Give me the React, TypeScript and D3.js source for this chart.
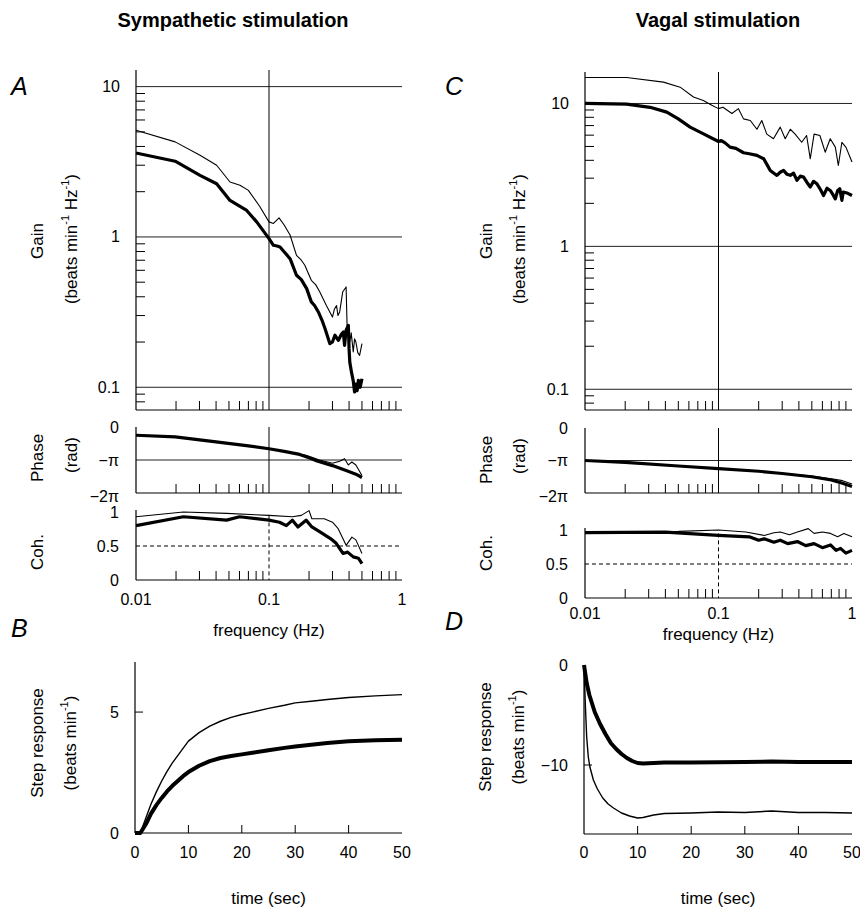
import React from "react";
import * as d3 from "d3";

// ---------- DATA ----------
const FREQ_MINOR = [0.02, 0.03, 0.04, 0.05, 0.06, 0.07, 0.08, 0.09, 0.2, 0.3, 0.4, 0.5, 0.6, 0.7, 0.8, 0.9];
const FREQ_LABELS: [number, string][] = [[0.01, "0.01"], [0.1, "0.1"], [1, "1"]];
const GAIN_MAJOR: [number, string][] = [[0.1, "0.1"], [1, "1"], [10, "10"]];
const GAIN_MINOR = [0.08, 0.09, 0.2, 0.3, 0.4, 0.5, 0.6, 0.7, 0.8, 0.9, 2, 3, 4, 5, 6, 7, 8, 9];
const PHASE_LABELS: [number, string][] = [[0, "0"], [-Math.PI, "\u2212\u03c0"], [-2 * Math.PI, "\u22122\u03c0"]];
const COH_LABELS: [number, string][] = [[0, "0"], [0.5, "0.5"], [1, "1"]];
const TIME_TICKS = [0, 10, 20, 30, 40, 50];

// Sympathetic (A) gain: [Hz, beats/min/Hz]
const SYM_GAIN_THICK: [number, number][] = [
  [0.01, 3.62], [0.0197, 3.19], [0.0303, 2.57], [0.0404, 2.26], [0.0509, 1.75], [0.068, 1.5], [0.0808, 1.26],
  [0.1, 0.975], [0.108, 0.88], [0.115, 0.87], [0.121, 0.858], [0.144, 0.717], [0.161, 0.556], [0.175, 0.52],
  [0.192, 0.453], [0.208, 0.37], [0.22, 0.35], [0.235, 0.317], [0.25, 0.28], [0.264, 0.245], [0.287, 0.195],
  [0.3, 0.2], [0.313, 0.222], [0.332, 0.205], [0.35, 0.225], [0.362, 0.233], [0.37, 0.19], [0.38, 0.24],
  [0.395, 0.258], [0.4, 0.18], [0.405, 0.147], [0.417, 0.126], [0.43, 0.11], [0.44, 0.093], [0.45, 0.105],
  [0.46, 0.095], [0.47, 0.111], [0.485, 0.1], [0.5, 0.114],
];
const SYM_GAIN_THIN: [number, number][] = [
  [0.01, 5.12], [0.0197, 4.29], [0.0303, 3.5], [0.0404, 3.0], [0.0509, 2.32], [0.0605, 2.21], [0.07, 2.04],
  [0.085, 1.6], [0.1, 1.26], [0.108, 1.23], [0.119, 1.34], [0.13, 1.2], [0.144, 1.03], [0.161, 0.755],
  [0.175, 0.7], [0.186, 0.648], [0.208, 0.515], [0.225, 0.48], [0.241, 0.43], [0.27, 0.35], [0.3, 0.293],
  [0.31, 0.33], [0.322, 0.35], [0.33, 0.3], [0.34, 0.317], [0.358, 0.43], [0.38, 0.465], [0.388, 0.222],
  [0.395, 0.25], [0.405, 0.2], [0.415, 0.23], [0.43, 0.172], [0.44, 0.21], [0.45, 0.2], [0.465, 0.17],
  [0.48, 0.163], [0.5, 0.195],
];
// Sympathetic phase: [Hz, phase/π]
const SYM_PHASE_THICK: [number, number][] = [
  [0.01, -0.25], [0.0197, -0.3], [0.04, -0.45], [0.07, -0.57], [0.1, -0.66], [0.13, -0.74], [0.17, -0.83],
  [0.2, -0.93], [0.23, -1.03], [0.3, -1.17], [0.38, -1.32], [0.45, -1.43], [0.5, -1.53],
];
const SYM_PHASE_THIN: [number, number][] = [
  [0.01, -0.25], [0.0197, -0.3], [0.04, -0.45], [0.07, -0.57], [0.1, -0.66], [0.13, -0.73], [0.17, -0.82],
  [0.19, -0.86], [0.24, -1.0], [0.3, -1.1], [0.34, -1.04], [0.37, -0.96], [0.395, -1.15], [0.42, -1.06],
  [0.45, -1.15], [0.5, -1.47],
];
// Sympathetic coherence
const SYM_COH_THICK: [number, number][] = [
  [0.01, 0.8], [0.0227, 0.93], [0.048, 0.88], [0.06, 0.93], [0.1, 0.88], [0.12, 0.85], [0.135, 0.8],
  [0.15, 0.88], [0.165, 0.78], [0.19, 0.88], [0.21, 0.78], [0.24, 0.71], [0.29, 0.61], [0.32, 0.54],
  [0.36, 0.39], [0.39, 0.41], [0.43, 0.34], [0.47, 0.32], [0.5, 0.24],
];
const SYM_COH_THIN: [number, number][] = [
  [0.01, 0.93], [0.0227, 1.0], [0.048, 0.98], [0.1, 0.95], [0.15, 0.93], [0.175, 0.95], [0.2, 1.02],
  [0.21, 0.9], [0.26, 0.9], [0.3, 0.85], [0.33, 0.76], [0.38, 0.51], [0.42, 0.63], [0.45, 0.59], [0.5, 0.39],
];

// Vagal (C) gain
const VAG_GAIN_THICK: [number, number][] = [
  [0.01, 10.0], [0.0205, 9.9], [0.0307, 9.4], [0.041, 8.7], [0.05, 7.8], [0.0613, 6.83], [0.0772, 6.13],
  [0.1, 5.42], [0.105, 5.5], [0.112, 5.3], [0.122, 4.95], [0.135, 4.85], [0.154, 4.52], [0.17, 4.45],
  [0.194, 4.33], [0.218, 4.1], [0.232, 3.7], [0.244, 3.4], [0.26, 3.25], [0.274, 3.14], [0.29, 3.3],
  [0.307, 3.4], [0.325, 3.2], [0.345, 3.14], [0.365, 3.25], [0.387, 2.9], [0.41, 3.1], [0.434, 3.05],
  [0.46, 2.8], [0.487, 2.6], [0.515, 2.85], [0.546, 2.74], [0.58, 2.5], [0.612, 2.27], [0.65, 2.55],
  [0.687, 2.46], [0.72, 2.3], [0.75, 2.15], [0.78, 2.45], [0.81, 2.53], [0.84, 2.1], [0.86, 2.4],
  [0.93, 2.35], [1.0, 2.27],
];
const VAG_GAIN_THIN: [number, number][] = [
  [0.01, 15.2], [0.0205, 15.2], [0.0387, 14.1], [0.0516, 13.0], [0.0649, 11.1], [0.077, 10.5], [0.0891, 9.7],
  [0.1, 9.2], [0.108, 9.4], [0.126, 8.5], [0.141, 9.2], [0.154, 7.8], [0.173, 7.6], [0.194, 6.6], [0.211, 7.6],
  [0.23, 6.1], [0.258, 5.66], [0.29, 6.83], [0.316, 5.66], [0.345, 6.6], [0.375, 6.1], [0.42, 5.35],
  [0.457, 5.97], [0.487, 4.1], [0.52, 6.1], [0.575, 5.97], [0.63, 4.56], [0.687, 5.66], [0.75, 4.95],
  [0.79, 3.68], [0.84, 5.35], [0.9, 4.95], [1.0, 3.89],
];
const VAG_PHASE_THICK: [number, number][] = [
  [0.01, -1.0], [0.02, -1.06], [0.05, -1.17], [0.1, -1.25], [0.2, -1.33], [0.3, -1.4], [0.5, -1.5],
  [0.7, -1.6], [0.85, -1.7], [1.0, -1.8],
];
const VAG_PHASE_THIN: [number, number][] = [
  [0.01, -1.0], [0.02, -1.06], [0.05, -1.17], [0.1, -1.25], [0.2, -1.33], [0.3, -1.39], [0.5, -1.48],
  [0.7, -1.56], [0.85, -1.62], [1.0, -1.72],
];
const VAG_COH_THICK: [number, number][] = [
  [0.01, 0.96], [0.04, 0.97], [0.1, 0.92], [0.17, 0.9], [0.2, 0.85], [0.22, 0.87], [0.26, 0.82], [0.29, 0.85],
  [0.33, 0.8], [0.39, 0.83], [0.45, 0.77], [0.52, 0.8], [0.6, 0.74], [0.69, 0.78], [0.76, 0.7], [0.82, 0.73],
  [0.9, 0.66], [1.0, 0.7],
];
const VAG_COH_THIN: [number, number][] = [
  [0.01, 0.97], [0.05, 0.98], [0.1, 1.0], [0.16, 0.97], [0.22, 0.92], [0.26, 0.96], [0.29, 0.97],
  [0.34, 0.93], [0.39, 0.97], [0.47, 1.02], [0.52, 0.95], [0.6, 0.97], [0.69, 0.95], [0.78, 0.9],
  [0.87, 0.95], [1.0, 0.9],
];

// Step responses: [sec, beats/min]
const SYM_STEP_THICK: [number, number][] = [
  [0, 0], [1, 0], [2, 0.35], [3, 0.8], [4, 1.15], [5, 1.45], [6, 1.72], [7, 1.95], [8, 2.15], [9, 2.35],
  [10, 2.52], [12, 2.78], [14, 2.97], [16, 3.1], [18, 3.18], [20, 3.25], [22, 3.32], [25, 3.42], [28, 3.52],
  [30, 3.58], [33, 3.65], [36, 3.72], [40, 3.79], [45, 3.83], [50, 3.86],
];
const SYM_STEP_THIN: [number, number][] = [
  [0, 0], [1, 0], [2, 0.6], [3, 1.2], [4, 1.7], [5, 2.15], [6, 2.55], [7, 2.9], [8, 3.2], [9, 3.5],
  [10, 3.8], [12, 4.15], [14, 4.42], [16, 4.62], [18, 4.78], [20, 4.9], [22, 5.0], [25, 5.15], [28, 5.28],
  [30, 5.38], [33, 5.45], [36, 5.52], [40, 5.6], [45, 5.67], [50, 5.72],
];
const VAG_STEP_THICK: [number, number][] = [
  [0, 0], [0.5, -1.8], [1, -3.0], [2, -4.7], [3, -5.9], [4, -6.9], [5, -7.8], [6, -8.4], [7, -8.9],
  [8, -9.3], [9, -9.6], [10, -9.8], [11, -9.85], [13, -9.8], [15, -9.75], [20, -9.75], [25, -9.72],
  [30, -9.7], [35, -9.65], [40, -9.7], [45, -9.7], [50, -9.7],
];
const VAG_STEP_THIN: [number, number][] = [
  [0, 0], [0.25, -4], [0.5, -7.2], [0.8, -9.2], [1.1, -10.2], [1.75, -11.5], [2.5, -12.4], [3.5, -13.3],
  [4.5, -13.9], [5.5, -14.3], [7, -14.8], [8.5, -15.1], [10, -15.3], [11, -15.25], [13, -15.0], [15, -14.85],
  [20, -14.8], [25, -14.7], [30, -14.75], [35, -14.6], [40, -14.75], [45, -14.75], [50, -14.8],
];

// ---------- STYLE ----------
const FONT = "'Liberation Sans', Arial, Helvetica, sans-serif";
const INK = "#000";
const GRID = "#222";
const THICK = 3.2;
const THIN = 1.1;
const TICK = 9;

type Pt = [number, number];

function FreqBottom({ xs, bottom, top, dashedMajor }: any) {
  return (
    <g>
      {FREQ_MINOR.map((f) => (
        <line key={f} x1={xs(f)} x2={xs(f)} y1={bottom} y2={bottom - TICK} stroke={INK} strokeWidth={1} />
      ))}
      <line
        x1={xs(0.1)} x2={xs(0.1)} y1={top} y2={bottom}
        stroke={INK} strokeWidth={1} strokeDasharray={dashedMajor ? "4,3" : undefined}
      />
    </g>
  );
}

function GainPanel({ x0, x1, top, bottom, dom, thick, thin }: any) {
  const xs = d3.scaleLog().domain([0.01, 1]).range([x0, x1]);
  const ys = d3.scaleLog().domain(dom).range([bottom, top]);
  const line = d3.line<Pt>().x((d) => xs(d[0])).y((d) => ys(d[1]));
  return (
    <g>
      {GAIN_MAJOR.map(([v, s]) => (
        <g key={s}>
          <line x1={x0} x2={x1} y1={ys(v)} y2={ys(v)} stroke={GRID} strokeWidth={1} />
          <text x={x0 - 16} y={ys(v)} textAnchor="end" dominantBaseline="central" fontSize={16}>{s}</text>
        </g>
      ))}
      {GAIN_MINOR.filter((v) => v >= dom[0] && v <= dom[1]).map((v) => (
        <line key={v} x1={x0} x2={x0 + TICK} y1={ys(v)} y2={ys(v)} stroke={INK} strokeWidth={1} />
      ))}
      <FreqBottom xs={xs} bottom={bottom} top={top} />
      <line x1={x0} x2={x0} y1={top} y2={bottom} stroke={INK} strokeWidth={1.2} />
      <line x1={x0} x2={x1} y1={bottom} y2={bottom} stroke={INK} strokeWidth={1.2} />
      <path d={line(thin) || ""} fill="none" stroke={INK} strokeWidth={THIN} strokeLinejoin="round" />
      <path d={line(thick) || ""} fill="none" stroke={INK} strokeWidth={THICK} strokeLinejoin="round" />
    </g>
  );
}

function PhasePanel({ x0, x1, top, bottom, thick, thin }: any) {
  const xs = d3.scaleLog().domain([0.01, 1]).range([x0, x1]);
  const ys = d3.scaleLinear().domain([-2 * Math.PI, 0]).range([bottom, top]);
  const line = d3.line<Pt>().x((d) => xs(d[0])).y((d) => ys(d[1] * Math.PI));
  return (
    <g>
      <line x1={x0} x2={x1} y1={ys(-Math.PI)} y2={ys(-Math.PI)} stroke={GRID} strokeWidth={1} />
      {PHASE_LABELS.map(([v, s]) => (
        <text key={s} x={x0 - 17} y={ys(v) + (v === -2 * Math.PI ? 3 : 0)} textAnchor="end" dominantBaseline="central" fontSize={16}>{s}</text>
      ))}
      <FreqBottom xs={xs} bottom={bottom} top={top} />
      <line x1={x0} x2={x0} y1={top} y2={bottom} stroke={INK} strokeWidth={1.2} />
      <line x1={x0} x2={x1} y1={bottom} y2={bottom} stroke={INK} strokeWidth={1.2} />
      <path d={line(thin) || ""} fill="none" stroke={INK} strokeWidth={THIN} strokeLinejoin="round" />
      <path d={line(thick) || ""} fill="none" stroke={INK} strokeWidth={THICK} strokeLinejoin="round" />
    </g>
  );
}

function CohPanel({ x0, x1, top, bottom, thick, thin, labelY, labelY2 }: any) {
  const xs = d3.scaleLog().domain([0.01, 1]).range([x0, x1]);
  const ys = d3.scaleLinear().domain([0, 1]).range([bottom, top]);
  const line = d3.line<Pt>().x((d) => xs(d[0])).y((d) => ys(d[1]));
  return (
    <g>
      <line x1={x0} x2={x1} y1={ys(0.5)} y2={ys(0.5)} stroke={INK} strokeWidth={1} strokeDasharray="4,3" />
      {COH_LABELS.map(([v, s]) => (
        <text key={s} x={x0 - 17} y={ys(v)} textAnchor="end" dominantBaseline="central" fontSize={16}>{s}</text>
      ))}
      <FreqBottom xs={xs} bottom={bottom} top={ys(0.95)} dashedMajor />
      <line x1={x0} x2={x0} y1={top - 2} y2={bottom} stroke={INK} strokeWidth={1.2} />
      <line x1={x0} x2={x1} y1={bottom} y2={bottom} stroke={INK} strokeWidth={1.2} />
      <path d={line(thin) || ""} fill="none" stroke={INK} strokeWidth={THIN} strokeLinejoin="round" />
      <path d={line(thick) || ""} fill="none" stroke={INK} strokeWidth={THICK} strokeLinejoin="round" />
      {FREQ_LABELS.map(([f, s]) => (
        <text key={s} x={xs(f)} y={labelY} textAnchor="middle" fontSize={16}>{s}</text>
      ))}
      <text x={(x0 + x1) / 2} y={labelY2} textAnchor="middle" fontSize={17}>frequency (Hz)</text>
    </g>
  );
}

function StepPanel({ x0, x1, top, bottom, dom, yTick, yTickLabel, thick, thin }: any) {
  const xs = d3.scaleLinear().domain([0, 50]).range([x0, x1]);
  const ys = d3.scaleLinear().domain(dom).range([bottom, top]);
  const line = d3.line<Pt>().x((d) => xs(d[0])).y((d) => ys(d[1]));
  return (
    <g>
      {TIME_TICKS.slice(1, 5).map((t) => (
        <line key={t} x1={xs(t)} x2={xs(t)} y1={bottom} y2={bottom - 8} stroke={INK} strokeWidth={1} />
      ))}
      <line x1={x0} x2={x0 + 8} y1={ys(yTick)} y2={ys(yTick)} stroke={INK} strokeWidth={1} />
      {yTickLabel.map(([v, s]: [number, string]) => (
        <text key={s} x={x0 - 16} y={ys(v)} textAnchor="end" dominantBaseline="central" fontSize={16}>{s}</text>
      ))}
      <line x1={x0} x2={x0} y1={top} y2={bottom} stroke={INK} strokeWidth={1.2} />
      <line x1={x0} x2={x1} y1={bottom} y2={bottom} stroke={INK} strokeWidth={1.2} />
      <path d={line(thin) || ""} fill="none" stroke={INK} strokeWidth={1.4} strokeLinejoin="round" />
      <path d={line(thick) || ""} fill="none" stroke={INK} strokeWidth={4} strokeLinejoin="round" />
      {TIME_TICKS.map((t) => (
        <text key={t} x={xs(t)} y={858} textAnchor="middle" fontSize={16}>{t}</text>
      ))}
      <text x={(x0 + x1) / 2} y={904} textAnchor="middle" fontSize={17}>time (sec)</text>
    </g>
  );
}

function RotLabel({ x, y, children }: any) {
  return (
    <text transform={`translate(${x},${y}) rotate(-90)`} textAnchor="middle" dominantBaseline="central" fontSize={17}>
      {children}
    </text>
  );
}

function UnitsGain() {
  return (
    <>
      (beats min<tspan dy={-6} fontSize={11}>-1</tspan><tspan dy={6}> Hz</tspan>
      <tspan dy={-6} fontSize={11}>-1</tspan><tspan dy={6}>)</tspan>
    </>
  );
}

function Letter({ x, y, s }: any) {
  return <text x={x} y={y} fontSize={25} fontStyle="italic">{s}</text>;
}

export default function App() {
  const A0 = 136, A1 = 402, C0 = 585, C1 = 852;
  return (
    <svg width={860} height={912} style={{ position: "absolute", left: 0, top: 0, background: "#fff" }} fontFamily={FONT} fill={INK}>
      <rect x={0} y={0} width={860} height={912} fill="#fff" />
      <text x={233} y={27} textAnchor="middle" fontSize={20} fontWeight="bold">Sympathetic stimulation</text>
      <text x={718} y={27} textAnchor="middle" fontSize={20} fontWeight="bold">Vagal stimulation</text>

      <Letter x={11} y={95} s="A" />
      <Letter x={445} y={95} s="C" />
      <Letter x={11} y={637} s="B" />
      <Letter x={445} y={630} s="D" />

      {/* Left: sympathetic */}
      <GainPanel x0={A0} x1={A1} top={70} bottom={410} dom={[0.0706, 12.9]} thick={SYM_GAIN_THICK} thin={SYM_GAIN_THIN} />
      <PhasePanel x0={A0} x1={A1} top={427} bottom={493} thick={SYM_PHASE_THICK} thin={SYM_PHASE_THIN} />
      <CohPanel x0={A0} x1={A1} top={512} bottom={580} thick={SYM_COH_THICK} thin={SYM_COH_THIN} labelY={605} labelY2={636} />
      <RotLabel x={37} y={241}>Gain</RotLabel>
      <RotLabel x={71} y={239}><UnitsGain /></RotLabel>
      <RotLabel x={37} y={458}>Phase</RotLabel>
      <RotLabel x={71} y={455}>(rad)</RotLabel>
      <RotLabel x={37} y={552}>Coh.</RotLabel>

      <StepPanel x0={135} x1={402} top={662} bottom={833} dom={[0, 7.07]} yTick={5}
        yTickLabel={[[0, "0"], [5, "5"]]} thick={SYM_STEP_THICK} thin={SYM_STEP_THIN} />
      <RotLabel x={37} y={743}>Step response</RotLabel>
      <RotLabel x={70} y={743}>(beats min<tspan dy={-6} fontSize={11}>-1</tspan><tspan dy={6}>)</tspan></RotLabel>

      {/* Right: vagal */}
      <GainPanel x0={C0} x1={C1} top={72} bottom={410} dom={[0.0716, 16.6]} thick={VAG_GAIN_THICK} thin={VAG_GAIN_THIN} />
      <PhasePanel x0={C0} x1={C1} top={428} bottom={493} thick={VAG_PHASE_THICK} thin={VAG_PHASE_THIN} />
      <CohPanel x0={C0} x1={C1} top={530} bottom={598} thick={VAG_COH_THICK} thin={VAG_COH_THIN} labelY={619} labelY2={640} />
      <RotLabel x={486} y={241}>Gain</RotLabel>
      <RotLabel x={519} y={239}><UnitsGain /></RotLabel>
      <RotLabel x={486} y={460}>Phase</RotLabel>
      <RotLabel x={519} y={456}>(rad)</RotLabel>
      <RotLabel x={486} y={553}>Coh.</RotLabel>

      <StepPanel x0={584} x1={852} top={665} bottom={834} dom={[-16.9, 0]} yTick={-10}
        yTickLabel={[[0, "0"], [-10, "\u221210"]]} thick={VAG_STEP_THICK} thin={VAG_STEP_THIN} />
      <RotLabel x={485} y={737}>Step response</RotLabel>
      <RotLabel x={518} y={737}>(beats min<tspan dy={-6} fontSize={11}>-1</tspan><tspan dy={6}>)</tspan></RotLabel>
    </svg>
  );
}
